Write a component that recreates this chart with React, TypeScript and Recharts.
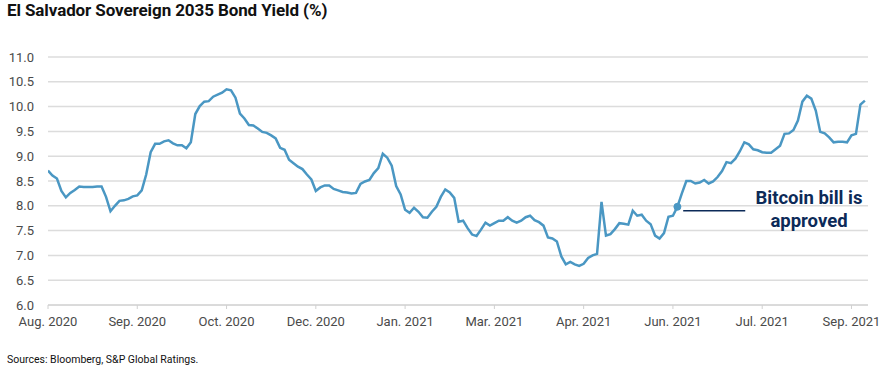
import React from "react";
import { LineChart, Line, XAxis, YAxis, CartesianGrid, ReferenceDot, ReferenceLine } from "recharts";

const tickLabels = ["Aug. 2020", "Sep. 2020", "Oct. 2020", "Dec. 2020", "Jan. 2021", "Mar. 2021", "Apr. 2021", "Jun. 2021", "Jul. 2021", "Sep. 2021"];
const tickIndex = [0, 20, 40, 60, 80, 100, 120, 140, 160, 180];
const yTicks = [6.0, 6.5, 7.0, 7.5, 8.0, 8.5, 9.0, 9.5, 10.0, 10.5, 11.0];

const yields = [
  8.71, 8.61, 8.55, 8.30, 8.17, 8.26, 8.32, 8.39, 8.38, 8.38,
  8.38, 8.39, 8.39, 8.18, 7.89, 8.00, 8.10, 8.11, 8.14, 8.19,
  8.21, 8.31, 8.63, 9.08, 9.25, 9.25, 9.30, 9.32, 9.26, 9.22,
  9.22, 9.16, 9.28, 9.85, 10.01, 10.10, 10.11, 10.20, 10.24, 10.28,
  10.35, 10.33, 10.18, 9.86, 9.76, 9.63, 9.62, 9.56, 9.49, 9.47,
  9.42, 9.36, 9.17, 9.13, 8.93, 8.86, 8.79, 8.74, 8.63, 8.53,
  8.30, 8.37, 8.41, 8.41, 8.34, 8.31, 8.28, 8.27, 8.25, 8.26,
  8.44, 8.49, 8.52, 8.66, 8.76, 9.05, 8.97, 8.81, 8.40, 8.23,
  7.92, 7.86, 7.96, 7.88, 7.77, 7.76, 7.88, 7.98, 8.18, 8.33,
  8.27, 8.16, 7.68, 7.70, 7.55, 7.42, 7.39, 7.52, 7.66, 7.60,
  7.65, 7.70, 7.70, 7.77, 7.70, 7.66, 7.70, 7.77, 7.80, 7.71,
  7.67, 7.60, 7.36, 7.34, 7.28, 6.98, 6.82, 6.87, 6.82, 6.79,
  6.83, 6.95, 7.00, 7.03, 8.08, 7.40, 7.43, 7.53, 7.65, 7.64,
  7.62, 7.90, 7.80, 7.82, 7.70, 7.63, 7.40, 7.34, 7.45, 7.78,
  7.80, 7.98, 8.25, 8.50, 8.50, 8.45, 8.47, 8.52, 8.45, 8.49,
  8.58, 8.70, 8.88, 8.86, 8.95, 9.10, 9.28, 9.24, 9.14, 9.12,
  9.08, 9.07, 9.07, 9.14, 9.21, 9.45, 9.46, 9.53, 9.72, 10.10,
  10.22, 10.16, 9.92, 9.49, 9.46, 9.38, 9.28, 9.29, 9.29, 9.28,
  9.42, 9.45, 10.04, 10.12,
];

const bitcoinIndex = 141;
const annotationLineX = [142.3, 156.2];
const annotationLineY = 7.9;

const data = yields.map((v, i) => ({ i, v }));

const FONT = "Roboto, 'Liberation Sans', sans-serif";
const LINE_COLOR = "#4a97c3";
const NAVY = "#0c2a58";

export default function App() {
  return (
    <div style={{ position: "relative", width: 884, height: 368, fontFamily: FONT, background: "#fff" }}>
      <style>{"body{margin:0}"}</style>
      <div style={{ position: "absolute", left: 7, top: 0, fontSize: 17, fontWeight: 700, lineHeight: "20px", color: "#111", letterSpacing: -0.1 }}>
        El Salvador Sovereign 2035 Bond Yield (%)
      </div>
      <LineChart width={884} height={368} data={data} margin={{ top: 57, right: 16, left: 0, bottom: 0 }}>
        <CartesianGrid vertical={false} stroke="#dcdcdc" strokeWidth={1.5} />
        <XAxis
          type="number"
          dataKey="i"
          domain={[0, 183.7]}
          ticks={tickIndex}
          interval={0}
          tickFormatter={(v) => tickLabels[tickIndex.indexOf(v)]}
          height={63}
          stroke="#d0d0d0"
          tickSize={4}
          tickMargin={8}
          tick={{ fill: "#4a4a4a", fontSize: 13, fontFamily: FONT }}
          allowDataOverflow
        />
        <YAxis
          domain={[6, 11]}
          ticks={yTicks}
          interval={0}
          width={48}
          axisLine={false}
          tickLine={false}
          tickSize={6}
          tickMargin={8}
          tickFormatter={(v) => v.toFixed(1)}
          tick={{ fill: "#4a4a4a", fontSize: 13, fontFamily: FONT }}
        />
        <ReferenceLine
          segment={[{ x: annotationLineX[0], y: annotationLineY }, { x: annotationLineX[1], y: annotationLineY }]}
          stroke={NAVY}
          strokeWidth={1.5}
        />
        <Line type="linear" dataKey="v" stroke={LINE_COLOR} strokeWidth={2.5} dot={false} isAnimationActive={false} />
        <ReferenceDot x={bitcoinIndex} y={yields[bitcoinIndex]} r={3.5} fill={LINE_COLOR} stroke={LINE_COLOR} />
      </LineChart>
      <div style={{ position: "absolute", left: 746, width: 126, top: 187, textAlign: "center", fontSize: 18.5, fontWeight: 700, lineHeight: "23px", color: NAVY }}>
        Bitcoin bill is<br />approved
      </div>
      <div style={{ position: "absolute", left: 7, top: 353, fontSize: 10.5, color: "#111" }}>
        Sources: Bloomberg, S&amp;P Global Ratings.
      </div>
    </div>
  );
}
